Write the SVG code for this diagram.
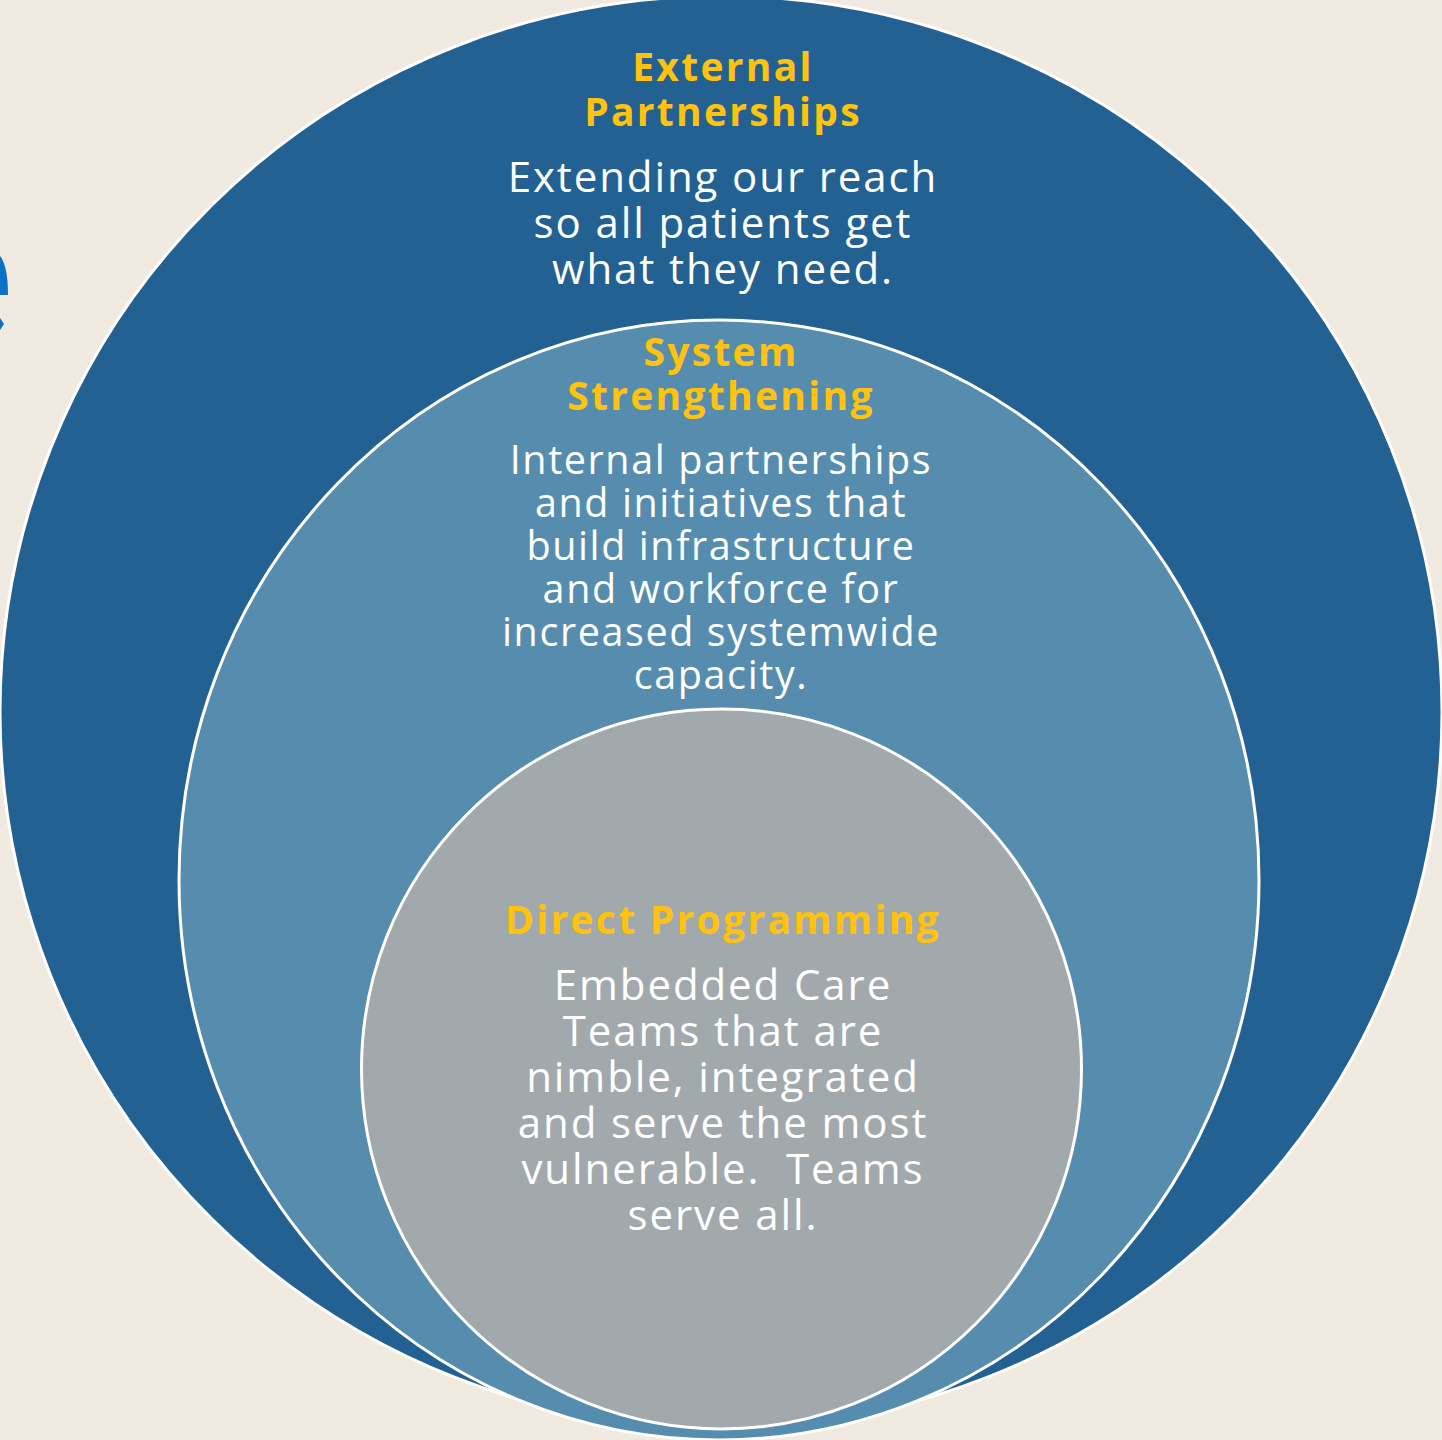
<svg xmlns="http://www.w3.org/2000/svg" width="1442" height="1440" viewBox="0 0 1442 1440">
  <style>
    .ring { stroke: #ffffff; stroke-width: 3; }
    .title { font-family: "Open Sans", "Liberation Sans", sans-serif; font-weight: 700; font-size: 39px; letter-spacing: 2.3px; fill: #ffc20e; text-anchor: middle; }
    .body { font-family: "Open Sans", "Liberation Sans", sans-serif; font-weight: 400; font-size: 42px; letter-spacing: 1.9px; fill: #ffffff; text-anchor: middle; }
    .body.small { font-size: 39.5px; letter-spacing: 1.6px; }
  </style>
  <rect x="0" y="0" width="1442" height="1440" fill="#f0eae1"/>

  <!-- fragment at the left edge -->
  <path d="M0 256 C5 262 8 275 8 295 L0 295 Z" fill="#0a72c4"/>
  <path d="M0 318 L4 324 L0 330 Z" fill="#0a72c4"/>

  <g id="external-partnerships">
    <ellipse class="ring" cx="721" cy="712" rx="721" ry="716" fill="#236192"/>
    <text class="title" x="723" y="81">External</text>
    <text class="title" x="723" y="126">Partnerships</text>
    <text class="body" x="723" y="192">Extending our reach</text>
    <text class="body" x="723" y="238">so all patients get</text>
    <text class="body" x="723" y="284">what they need.</text>
  </g>

  <g id="system-strengthening">
    <ellipse class="ring" cx="719" cy="880" rx="540" ry="560" fill="#568dae"/>
    <text class="title" x="721" y="366">System</text>
    <text class="title" x="721" y="410">Strengthening</text>
    <text class="body small" x="721" y="474">Internal partnerships</text>
    <text class="body small" x="721" y="517">and initiatives that</text>
    <text class="body small" x="721" y="560">build infrastructure</text>
    <text class="body small" x="721" y="603">and workforce for</text>
    <text class="body small" x="721" y="646">increased systemwide</text>
    <text class="body small" x="721" y="689">capacity.</text>
  </g>

  <g id="direct-programming">
    <circle class="ring" cx="721.5" cy="1069" r="360" fill="#a2a9ac"/>
    <text class="title" x="723" y="934">Direct Programming</text>
    <text class="body" x="723" y="1000">Embedded Care</text>
    <text class="body" x="723" y="1046">Teams that are</text>
    <text class="body" x="723" y="1092">nimble, integrated</text>
    <text class="body" x="723" y="1138">and serve the most</text>
    <text class="body" x="723" y="1184" xml:space="preserve">vulnerable.  Teams</text>
    <text class="body" x="723" y="1230">serve all.</text>
  </g>

  <g id="connectors"/>
</svg>
